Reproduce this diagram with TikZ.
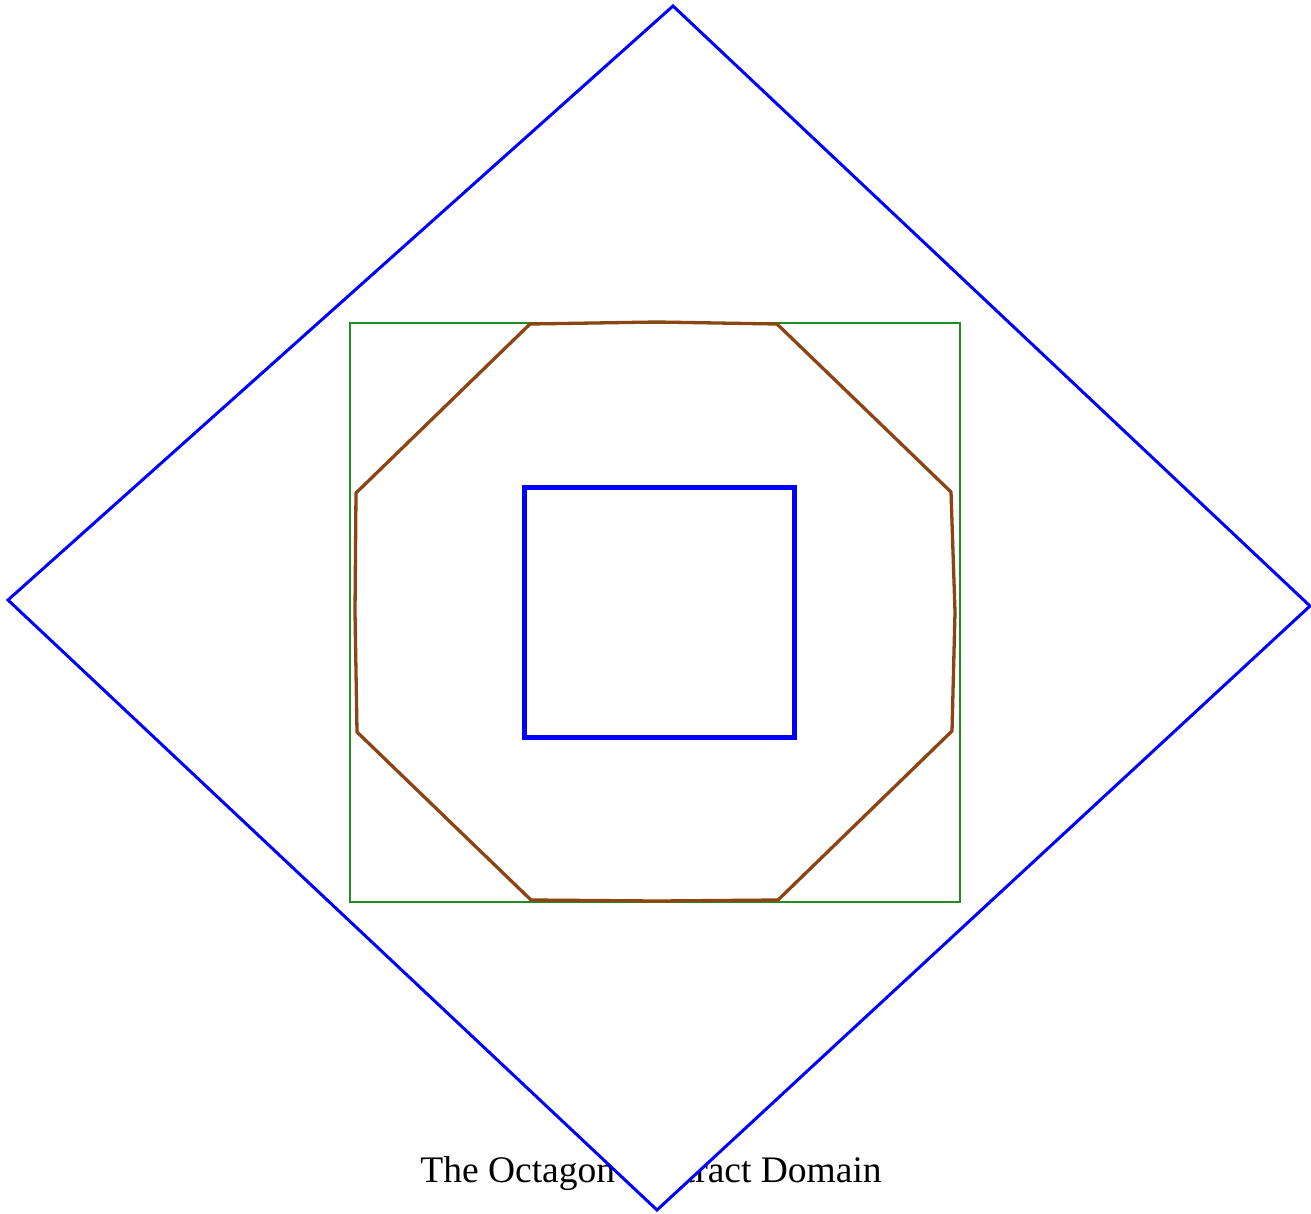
\documentclass[tikz,border=0pt]{standalone}
\usepackage{fontspec}
\setmainfont{Liberation Serif}
\usetikzlibrary{calc}
\definecolor{DomBlue}{RGB}{0,0,255}
\definecolor{DomGreen}{RGB}{34,139,34}
\definecolor{DomBrown}{RGB}{139,69,19}
\tikzset{
  every node/.style={text=black},
  outerdiamond/.style={draw=DomBlue, line width=3pt, fill=white, line join=miter},
  boxhull/.style={draw=DomGreen, line width=2.6pt},
  octagon/.style={draw=DomBrown, line width=3.3pt, line join=round},
  innerbox/.style={draw=DomBlue, line width=5pt},
}
\begin{document}
\begin{tikzpicture}[x=1pt,y=-1pt]
  \useasboundingbox (0,0) rectangle (1311,1213);
  % Caption underneath everything
  \node[font=\fontsize{37.5}{40}\selectfont, anchor=base] (title) at (651,1182) {The Octagon Abstract Domain};
  % Large rotated square, filled so it hides part of the caption
  \filldraw[outerdiamond] (673,6) -- (1310,606) -- (657,1210) -- (8,600) -- cycle;
  % Bounding box
  \draw[boxhull] (350,323) rectangle (960,902);
  % Octagon
  \draw[octagon] (530,324) -- (657,322) -- (777,324) -- (951,492) -- (955,612)
    -- (952,731) -- (778,900) -- (657,901) -- (531,900) -- (357,732)
    -- (355,612) -- (356,493) -- cycle;
  % Inner square
  \draw[innerbox] (524,487) rectangle (794,737);
\end{tikzpicture}
\end{document}
